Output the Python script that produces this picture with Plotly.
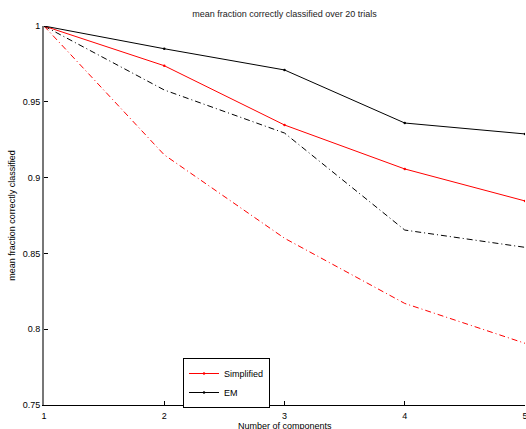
import plotly.graph_objects as go

components = [1, 2, 3, 4, 5]
simplified_mean = [1.0, 0.9738, 0.9347, 0.9057, 0.8846]
em_mean = [1.0, 0.985, 0.971, 0.936, 0.9288]
em_dashdot = [1.0, 0.9578, 0.9294, 0.8654, 0.854]
simplified_dashdot = [1.0, 0.915, 0.860, 0.817, 0.7907]
y_ticks = [0.75, 0.8, 0.85, 0.9, 0.95, 1.0]
y_tick_text = ["0.75", "0.8", "0.85", "0.9", "0.95", "1"]
x_ticks = [1, 2, 3, 4, 5]

FONT = "Liberation Sans, Arial, Helvetica, sans-serif"

fig = go.Figure()
fig.add_trace(go.Scatter(x=components, y=simplified_dashdot, mode="lines",
                         line=dict(color="red", width=1, dash="6px,3px,1px,3px"),
                         showlegend=False))
fig.add_trace(go.Scatter(x=components, y=em_dashdot, mode="lines",
                         line=dict(color="black", width=1, dash="6px,3px,1px,3px"),
                         showlegend=False))
fig.add_trace(go.Scatter(x=components, y=simplified_mean, mode="lines+markers",
                         line=dict(color="red", width=1), marker=dict(size=2.5, color="red"),
                         name="Simplified"))
fig.add_trace(go.Scatter(x=components, y=em_mean, mode="lines+markers",
                         line=dict(color="black", width=1), marker=dict(size=2.5, color="black"),
                         name="EM"))

fig.add_annotation(text="Number of components", xref="paper", yref="paper",
                   x=0.5, y=(405 - 426) / 379, xanchor="center", yanchor="middle",
                   showarrow=False, font=dict(size=9, family=FONT, color="black"))

fig.update_layout(
    width=526, height=429,
    margin=dict(l=44, r=1, t=26, b=24),
    paper_bgcolor="white", plot_bgcolor="white",
    font=dict(family=FONT, size=9, color="black"),
    title=dict(text="mean fraction correctly classified over 20 trials",
               x=(44 + 525) / 2 / 526, xanchor="center", y=1 - 14 / 429, yanchor="middle",
               font=dict(size=9, family=FONT, color="#222")),
    legend=dict(x=(183 - 44) / 481, y=(405 - 383) / 379, xanchor="left", yanchor="middle",
                bordercolor="black", borderwidth=1, bgcolor="white",
                font=dict(size=9, family=FONT), tracegroupgap=0,
                itemwidth=30),
    xaxis=dict(range=[1, 5], tickvals=x_ticks, ticks="inside", ticklen=4,
               showgrid=False, zeroline=False, showline=True, linecolor="black",
               linewidth=1, tickcolor="black", ticklabeloverflow="allow",
               ticklabelstandoff=2, automargin=False,
               tickfont=dict(size=9)),
    yaxis=dict(range=[0.75, 1], tickvals=y_ticks, ticktext=y_tick_text, ticks="inside",
               ticklen=4, showgrid=False, zeroline=False, showline=True,
               linecolor="#777", linewidth=2, tickcolor="black", automargin=False,
               title=dict(text="mean fraction correctly classified", standoff=6,
                          font=dict(size=9)),
               tickfont=dict(size=9)),
)

fig.write_html("out.html")
